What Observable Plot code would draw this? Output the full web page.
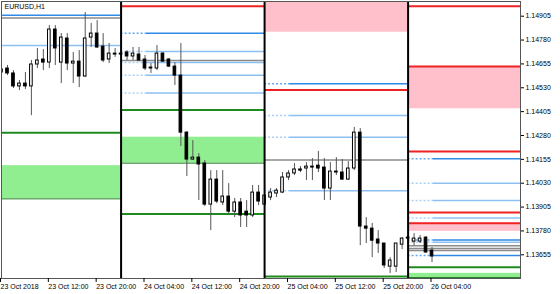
<!DOCTYPE html>
<html><head><meta charset="utf-8">
<script src="https://cdn.jsdelivr.net/npm/d3@7"></script>
<script src="https://cdn.jsdelivr.net/npm/@observablehq/plot@0.6"></script>
<style>body{margin:0;background:#fff}svg{display:block}</style>
</head><body><div id="chart"></div>
<script>
// hours since 23 Oct 2018 00:00 (H1 bars)
const hours = d3.range(4, 77);
const open  = [1.14610,1.14631,1.14605,1.14537,1.14552,1.14537,1.14652,1.14678,1.14662,1.14835,1.14662,1.14788,1.14657,1.14667,1.14589,1.14793,1.14814,1.14746,1.14678,1.14709,
               1.14704,1.14715,1.14694,1.14704,1.14678,1.14636,1.14631,1.14709,1.14678,1.14641,1.14594,1.14295,1.14154,1.14164,1.14133,1.13918,1.14049,1.13929,1.13960,1.13881,1.13929,1.13881,1.13861,1.13981,
               1.13918,1.13955,1.13976,1.13981,1.14060,1.14081,1.14102,1.14107,1.14117,1.14122,1.14112,1.14002,1.14091,1.14086,1.14049,1.14107,1.14295,1.13803,1.13792,1.13735,1.13714,1.13593,1.13593,1.13708,
               1.13740,1.13724,1.13724,1.13745,1.13677];
const high  = [1.14641,1.14647,1.14620,1.14568,1.14610,1.14673,1.14736,1.14730,1.14856,1.14856,1.14814,1.14814,1.14715,1.14725,1.14924,1.14867,1.14882,1.14814,1.14762,1.14736,
               1.14725,1.14725,1.14741,1.14741,1.14699,1.14657,1.14751,1.14715,1.14683,1.14662,1.14762,1.14301,1.14253,1.14185,1.14149,1.14096,1.14096,1.14096,1.14028,1.13950,1.13950,1.13939,1.14018,1.14018,
               1.13981,1.14002,1.14002,1.14086,1.14096,1.14133,1.14117,1.14138,1.14159,1.14196,1.14159,1.14138,1.14164,1.14154,1.14143,1.14322,1.14316,1.13850,1.13819,1.13782,1.13714,1.13640,1.13714,1.13745,
               1.13756,1.13766,1.13756,1.13750,1.13693];
const low   = [1.14594,1.14594,1.14526,1.14515,1.14521,1.14384,1.14631,1.14620,1.14631,1.14647,1.14552,1.14620,1.14552,1.14531,1.14584,1.14741,1.14736,1.14662,1.14657,1.14689,
               1.14694,1.14673,1.14673,1.14667,1.14620,1.14605,1.14620,1.14662,1.14636,1.14542,1.14222,1.14065,1.14149,1.13939,1.13908,1.13782,1.13923,1.13913,1.13871,1.13850,1.13798,1.13798,1.13850,1.13913,
               1.13908,1.13939,1.13955,1.13976,1.14044,1.14070,1.14086,1.14044,1.14044,1.14086,1.13939,1.13939,1.14070,1.14044,1.14044,1.14096,1.13703,1.13714,1.13640,1.13662,1.13583,1.13557,1.13562,1.13682,
               1.13708,1.13703,1.13714,1.13662,1.13614];
const close = [1.14626,1.14605,1.14537,1.14552,1.14537,1.14652,1.14673,1.14662,1.14835,1.14736,1.14793,1.14657,1.14667,1.14589,1.14788,1.14814,1.14741,1.14673,1.14709,1.14704,
               1.14709,1.14694,1.14709,1.14673,1.14631,1.14631,1.14709,1.14667,1.14641,1.14594,1.14295,1.14154,1.14164,1.14128,1.13918,1.14049,1.13934,1.13960,1.13881,1.13929,1.13861,1.13861,1.13981,1.13934,
               1.13965,1.13981,1.13991,1.14060,1.14081,1.14102,1.14096,1.14117,1.14112,1.14107,1.14002,1.14091,1.14086,1.14049,1.14107,1.14295,1.13803,1.13792,1.13729,1.13714,1.13599,1.13625,1.13714,1.13740,
               1.13745,1.13740,1.13740,1.13667,1.13646];

// day windows (hours) for the daily levels
const dayStart = [0, 24, 48, 72];
const dayEnd   = [24, 48, 72, 96];

// levels: day index + price
const redDay = [1, 2, 3, 3, 3, 3, 3];
const redPrice = [1.14957, 1.14519, 1.14957, 1.14641, 1.14196, 1.13876, 1.13820];
const blueDay = [0, 1, 2, 3, 3, 3];
const bluePrice = [1.14910, 1.14816, 1.14551, 1.14158, 1.13733, 1.13651];
const lightDay = [0, 1, 1, 1, 1, 2, 2, 2, 3, 3, 3, 3];
const lightPrice = [1.14751, 1.14720, 1.14662, 1.14596, 1.14502, 1.14385, 1.14271, 1.13991, 1.14030, 1.13939, 1.13848, 1.13721];
const grayDay = [0, 1, 2, 3, 3, 3];
const grayPrice = [1.14896, 1.14673, 1.14152, 1.13703, 1.13688, 1.13677];
const greenDay = [0, 1, 1, 2, 3];
const greenPrice = [1.14294, 1.14414, 1.13869, 1.13541, 1.13590];
const greenZoneDay = [0, 1, 3];
const greenZoneLow = [1.13948, 1.14135, 1.13536];
const greenZoneHigh = [1.14122, 1.14271, 1.13558];
const pinkZoneDay = [2, 3, 3];
const pinkZoneLow = [1.14821, 1.14420, 1.13778];
const pinkZoneHigh = [1.15000, 1.14641, 1.13820];

const yTicks = [1.14905, 1.14780, 1.14655, 1.14530, 1.14405, 1.14280, 1.14155, 1.14030, 1.13905, 1.13780, 1.13655];
const xTickHours = [4, 12, 20, 28, 36, 44, 52, 60, 68, 76];
const xTickLabels = ["23 Oct 2018","23 Oct 12:00","23 Oct 20:00","24 Oct 04:00","24 Oct 12:00","24 Oct 20:00","25 Oct 04:00","25 Oct 12:00","25 Oct 20:00","26 Oct 04:00"];
const symbolLabel = "EURUSD,H1";

const candles = hours.map((h, i) => ({h, o: open[i], hi: high[i], lo: low[i], c: close[i]}));
const lv = (days, prices) => days.map((d, i) => ({p: prices[i], x1: dayStart[d], x2: dayEnd[d]}));
const zones = (days, lo, hi) => days.map((d, i) => ({y1: lo[i], y2: hi[i], x1: dayStart[d], x2: dayEnd[d]}));
const DASH = 4.2;
const dashedLevels = (data, color, w) => [
  Plot.ruleY(data, {y: "p", x1: "x1", x2: d => d.x1 + DASH, stroke: color, strokeOpacity: 0.75, strokeWidth: w, strokeDasharray: "2,2", clip: true}),
  Plot.ruleY(data, {y: "p", x1: d => d.x1 + DASH, x2: "x2", stroke: color, strokeWidth: w, clip: true})
];

const chart = Plot.plot({
  width: 560, height: 294,
  marginLeft: 1, marginRight: 40, marginTop: 1, marginBottom: 16,
  style: {fontFamily: "Liberation Sans, Arial, sans-serif", fontSize: "7px", background: "#fff", color: "#000"},
  x: {domain: [4, 90.8]},
  y: {domain: [1.135308, 1.149820]},
  marks: [
    Plot.rect(zones(greenZoneDay, greenZoneLow, greenZoneHigh), {x1: "x1", x2: "x2", y1: "y1", y2: "y2", fill: "#90ee90", clip: true}),
    Plot.ruleY(zones(greenZoneDay, greenZoneLow, greenZoneHigh), {y: "y1", x1: "x1", x2: "x2", stroke: "#2e7d2e", strokeWidth: 1, clip: true}),
    Plot.rect(zones(pinkZoneDay, pinkZoneLow, pinkZoneHigh), {x1: "x1", x2: "x2", y1: "y1", y2: "y2", fill: "#ffc0cb", clip: true}),
    ...dashedLevels(lv(lightDay, lightPrice), "#8cc0f2", 1.5),
    ...dashedLevels(lv(blueDay, bluePrice), "#2f8ae6", 1.5),
    Plot.ruleY(lv(grayDay, grayPrice), {y: "p", x1: "x1", x2: "x2", stroke: "#8a8a8a", strokeWidth: 1.5, clip: true}),
    Plot.ruleY(lv(redDay, redPrice), {y: "p", x1: "x1", x2: "x2", stroke: "#ee2222", strokeWidth: 2, clip: true}),
    Plot.ruleY(lv(greenDay, greenPrice), {y: "p", x1: "x1", x2: "x2", stroke: "#1f8a1f", strokeWidth: 2, clip: true}),
    Plot.ruleX(candles, {x: "h", y1: "lo", y2: "hi", stroke: "#555", strokeWidth: 1, clip: true}),
    Plot.rect(candles, {x1: d => d.h - 0.22, x2: d => d.h + 0.22, y1: "o", y2: "c", fill: d => d.c >= d.o ? "#fff" : "#000", stroke: "#000", strokeWidth: 1, clip: true}),
    Plot.ruleX(dayStart.slice(1), {stroke: "#000", strokeWidth: 2}),
    Plot.frame({stroke: "#555"}),
    Plot.axisY(yTicks, {anchor: "right", tickSize: 3, tickPadding: 2, tickFormat: d3.format(".5f"), fontSize: 7}),
    Plot.axisX(xTickHours, {anchor: "bottom", tickSize: 4, tickPadding: 2, textAnchor: "start", dx: -1, tickFormat: d => xTickLabels[xTickHours.indexOf(d)], fontSize: 7}),
    Plot.text([symbolLabel], {frameAnchor: "top-left", dx: 3, dy: 3, textAnchor: "start", lineAnchor: "top", fontSize: 7, fill: "#000"})
  ]
});
document.getElementById("chart").append(chart);
</script>
</body></html>
